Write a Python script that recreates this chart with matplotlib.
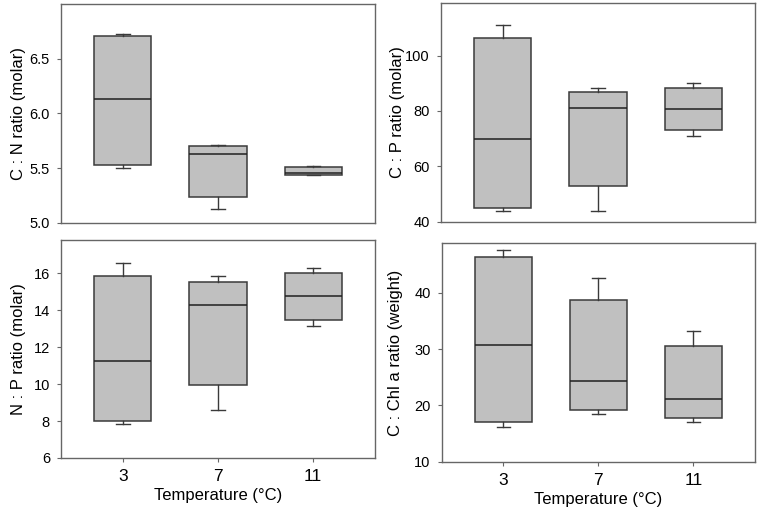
import matplotlib
matplotlib.use("Agg")
import matplotlib.pyplot as plt

plt.rcParams['font.family'] = ['Liberation Sans', 'DejaVu Sans']

temps = ['3', '7', '11']

# box stats per temperature: whisker low, q1, median, q3, whisker high
cn_lo = [5.50, 5.13, 5.44]
cn_q1 = [5.53, 5.24, 5.44]
cn_med = [6.13, 5.63, 5.46]
cn_q3 = [6.71, 5.70, 5.51]
cn_hi = [6.73, 5.71, 5.52]

cp_lo = [44.0, 44.0, 71.0]
cp_q1 = [44.8, 53.0, 73.0]
cp_med = [69.8, 81.0, 80.8]
cp_q3 = [106.3, 86.8, 88.2]
cp_hi = [111.2, 88.2, 90.2]

np_lo = [7.83, 8.62, 13.12]
np_q1 = [8.02, 9.97, 13.46]
np_med = [11.26, 14.28, 14.78]
np_q3 = [15.83, 15.50, 16.00]
np_hi = [16.53, 15.83, 16.31]

cchl_lo = [16.2, 18.5, 17.0]
cchl_q1 = [17.0, 19.2, 17.7]
cchl_med = [30.7, 24.3, 21.1]
cchl_q3 = [46.3, 38.7, 30.5]
cchl_hi = [47.6, 42.6, 33.3]

spine_col = '#666666'
edge_col = '#3a3a3a'


def stats(lo, q1, med, q3, hi):
    return [dict(whislo=a, q1=b, med=c, q3=d, whishi=e, fliers=[])
            for a, b, c, d, e in zip(lo, q1, med, q3, hi)]


def draw(ax, st, ylim, yticks, yfmt, ylabel, labx, bottom):
    ax.bxp(st, positions=range(len(temps)), widths=0.6, capwidths=0.14,
           patch_artist=True, showfliers=False,
           boxprops=dict(facecolor='#c0c0c0', edgecolor=edge_col, linewidth=1.1),
           medianprops=dict(color='#202020', linewidth=1.1),
           whiskerprops=dict(color=edge_col, linewidth=1.0),
           capprops=dict(color=edge_col, linewidth=1.0))
    ax.set_xlim(-0.65, 2.65)
    ax.set_ylim(*ylim)
    ax.set_yticks(yticks)
    ax.set_yticklabels([yfmt.format(v) for v in yticks], fontsize=10.5)
    ax.set_ylabel(ylabel, fontsize=12)
    ax.yaxis.set_label_coords(labx, 0.5)
    for s in ax.spines.values():
        s.set_color(spine_col)
        s.set_linewidth(1.0)
    ax.tick_params(axis='y', direction='out', length=3, color=spine_col, pad=5)
    if bottom:
        ax.set_xticks(range(len(temps)))
        ax.set_xticklabels(temps, fontsize=12.5)
        ax.tick_params(axis='x', direction='out', length=3, color=spine_col, pad=5)
        ax.set_xlabel('Temperature (°C)', fontsize=12, labelpad=3)
    else:
        ax.set_xticks([])


fig = plt.figure(figsize=(7.6, 5.12), dpi=100)
ax1 = fig.add_axes([0.0803, 0.5645, 0.4132, 0.4277])
ax2 = fig.add_axes([0.5803, 0.5670, 0.4132, 0.4272])
ax3 = fig.add_axes([0.0803, 0.1055, 0.4132, 0.4258])
ax4 = fig.add_axes([0.5812, 0.0982, 0.4122, 0.4264])

draw(ax1, stats(cn_lo, cn_q1, cn_med, cn_q3, cn_hi), (5.0, 7.0),
     [5.0, 5.5, 6.0, 6.5], '{:.1f}', 'C : N ratio (molar)', -0.111, False)
draw(ax2, stats(cp_lo, cp_q1, cp_med, cp_q3, cp_hi), (40, 119),
     [40, 60, 80, 100], '{:d}', 'C : P ratio (molar)', -0.115, False)
draw(ax3, stats(np_lo, np_q1, np_med, np_q3, np_hi), (6, 17.8),
     [6, 8, 10, 12, 14, 16], '{:d}', 'N : P ratio (molar)', -0.111, True)
draw(ax4, stats(cchl_lo, cchl_q1, cchl_med, cchl_q3, cchl_hi), (10, 48.8),
     [10, 20, 30, 40], '{:d}', 'C : Chl a ratio (weight)', -0.124, True)

fig.savefig('out.png', dpi=100)
